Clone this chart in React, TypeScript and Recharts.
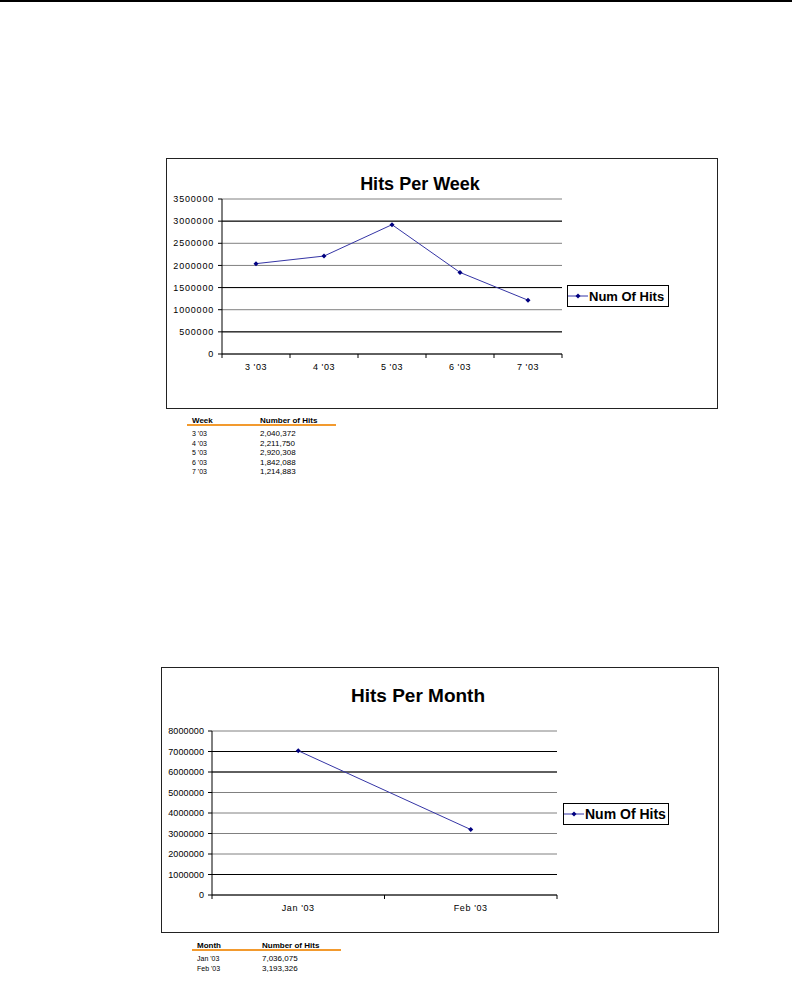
import React from "react";
import {
  CartesianGrid,
  Legend,
  Line,
  LineChart,
  ReferenceLine,
  XAxis,
  YAxis,
} from "recharts";

const weekLabels = ["3 '03", "4 '03", "5 '03", "6 '03", "7 '03"];
const weekHits = [2040372, 2211750, 2920308, 1842088, 1214883];
const weekTicks = [0, 500000, 1000000, 1500000, 2000000, 2500000, 3000000, 3500000];

const monthLabels = ["Jan '03", "Feb '03"];
const monthHits = [7036075, 3193326];
const monthTicks = [0, 1000000, 2000000, 3000000, 4000000, 5000000, 6000000, 7000000, 8000000];

const FONT = "Arial, 'Liberation Sans', sans-serif";
const LINE_COLOR = "#3535a5";
const DOT_COLOR = "#000080";

const weekData = weekLabels.map((label, i) => ({ label, hits: weekHits[i] }));
const monthData = monthLabels.map((label, i) => ({ label, hits: monthHits[i] }));

function Diamond(props: any) {
  const { cx, cy, index } = props;
  if (cx == null || cy == null) return <g key={index} />;
  return (
    <polygon
      key={index}
      points={`${cx},${cy - 2.5} ${cx + 2.5},${cy} ${cx},${cy + 2.5} ${cx - 2.5},${cy}`}
      fill={DOT_COLOR}
    />
  );
}

// category label plus Excel-style tick marks on the category boundaries
function CategoryTick(props: any) {
  const { x, y, payload, index, visibleTicksCount } = props;
  const half = payload.offset || 0;
  const axisY = y - 10;
  const last = index === visibleTicksCount - 1;
  return (
    <g>
      <line x1={x - half} y1={axisY} x2={x - half} y2={axisY + 4} stroke="#000" />
      {last && <line x1={x + half} y1={axisY} x2={x + half} y2={axisY + 4} stroke="#000" />}
      <text
        x={x}
        y={y}
        dy="0.71em"
        textAnchor="middle"
        fontSize={9}
        fontFamily={FONT}
        letterSpacing={0.6}
        fill="#000"
      >
        {payload.value}
      </text>
    </g>
  );
}

function LegendBox({ width, fontSize, gap }: { width: number; fontSize: number; gap: number }) {
  return (
    <div style={{ paddingLeft: gap }}>
      <div
        style={{
          width,
          height: 22,
          boxSizing: "border-box",
          border: "1px solid #000",
          display: "flex",
          alignItems: "center",
          fontFamily: FONT,
          fontWeight: "bold",
          fontSize,
          color: "#000",
          background: "#fff",
          whiteSpace: "nowrap",
        }}
      >
        <svg width={20} height={10} style={{ marginLeft: 0, marginRight: 1, flex: "none" }}>
          <line x1={0} y1={5} x2={20} y2={5} stroke={LINE_COLOR} strokeWidth={1} />
          <polygon points="10,2.5 12.5,5 10,7.5 7.5,5" fill={DOT_COLOR} />
        </svg>
        <span>Num Of Hits</span>
      </div>
    </div>
  );
}

type ChartProps = {
  data: { label: string; hits: number }[];
  ticks: number[];
  darkLines: number[];
  title: string;
  titleSize: number;
  titleCenter: number;
  titleTop: number;
  left: number;
  top: number;
  width: number;
  height: number;
  margin: { top: number; right: number; left: number; bottom: number };
  yWidth: number;
  ySpacing: number;
  xHeight: number;
  legendTop: number;
  legendWidth: number;
  legendGap: number;
  legendFont: number;
};

function HitsChart(p: ChartProps) {
  return (
    <div
      style={{
        position: "absolute",
        left: p.left,
        top: p.top,
        width: p.width,
        height: p.height,
        boxSizing: "border-box",
        border: "1px solid #222",
      }}
    >
      <div
        style={{
          position: "absolute",
          left: p.titleCenter - 150,
          top: p.titleTop,
          width: 300,
          textAlign: "center",
          fontFamily: FONT,
          fontWeight: "bold",
          fontSize: p.titleSize,
          lineHeight: `${p.titleSize}px`,
          color: "#000",
        }}
      >
        {p.title}
      </div>
      <div style={{ position: "absolute", left: -1, top: -1 }}>
        <LineChart width={p.width} height={p.height} data={p.data} margin={p.margin}>
          <CartesianGrid vertical={false} stroke="#808080" />
          {p.darkLines.map((v) => (
            <ReferenceLine key={v} y={v} stroke="#000" />
          ))}
          <XAxis
            dataKey="label"
            scale="band"
            height={p.xHeight}
            stroke="#000"
            tickLine={false}
            tickSize={4}
            tickMargin={6}
            interval={0}
            tick={<CategoryTick />}
          />
          <YAxis
            domain={[p.ticks[0], p.ticks[p.ticks.length - 1]]}
            ticks={p.ticks}
            width={p.yWidth}
            tickSize={4}
            tickMargin={4}
            stroke="#000"
            interval={0}
            tick={{ fontSize: 9, fill: "#000", fontFamily: FONT, letterSpacing: p.ySpacing }}
          />
          <Legend
            layout="vertical"
            align="right"
            verticalAlign="top"
            wrapperStyle={{ top: p.legendTop }}
            content={() => (
              <LegendBox width={p.legendWidth} fontSize={p.legendFont} gap={p.legendGap} />
            )}
          />
          <Line
            type="linear"
            dataKey="hits"
            stroke={LINE_COLOR}
            strokeWidth={1}
            dot={Diamond}
            activeDot={false}
            isAnimationActive={false}
          />
        </LineChart>
      </div>
    </div>
  );
}

function HitsTable({
  left,
  top,
  header,
  labels,
  values,
  valueLeft,
}: {
  left: number;
  top: number;
  header: string;
  labels: string[];
  values: number[];
  valueLeft: number;
}) {
  const cell: React.CSSProperties = {
    position: "absolute",
    fontFamily: FONT,
    fontSize: 8,
    lineHeight: "8px",
    color: "#000",
    whiteSpace: "nowrap",
  };
  return (
    <div style={{ position: "absolute", left, top, width: 150 }}>
      <div style={{ ...cell, left: 5, top: 0, fontWeight: "bold" }}>{header}</div>
      <div style={{ ...cell, left: valueLeft, top: 0, fontWeight: "bold" }}>Number of Hits</div>
      <div
        style={{ position: "absolute", left: 0, top: 7, width: 149, height: 2, background: "#f29a2e" }}
      />
      {labels.map((label, i) => (
        <React.Fragment key={label}>
          <div style={{ ...cell, left: 5, top: 13 + i * 9.6, fontSize: 7 }}>{label}</div>
          <div style={{ ...cell, left: valueLeft, top: 13 + i * 9.6 }}>
            {values[i].toLocaleString("en-US")}
          </div>
        </React.Fragment>
      ))}
    </div>
  );
}

export default function App() {
  return (
    <div
      style={{
        position: "absolute",
        left: 0,
        top: 0,
        width: 792,
        height: 991,
        background: "#fff",
        overflow: "hidden",
      }}
    >
      <div style={{ position: "absolute", left: 0, top: 0, width: 792, height: 2, background: "#000" }} />
      <HitsChart
        data={weekData}
        ticks={weekTicks}
        darkLines={[3000000, 1500000, 500000]}
        title="Hits Per Week"
        titleSize={18}
        titleCenter={253}
        titleTop={16}
        left={166}
        top={158}
        width={552}
        height={251}
        margin={{ top: 41, right: 49, left: 0, bottom: 0 }}
        yWidth={56}
        ySpacing={0.8}
        xHeight={55}
        legendTop={127}
        legendWidth={102}
        legendGap={5}
        legendFont={13}
      />
      <HitsTable
        left={187}
        top={417}
        header="Week"
        labels={weekLabels}
        values={weekHits}
        valueLeft={73}
      />
      <HitsChart
        data={monthData}
        ticks={monthTicks}
        darkLines={[7000000, 6000000, 1000000]}
        title="Hits Per Month"
        titleSize={19}
        titleCenter={256}
        titleTop={18}
        left={161}
        top={667}
        width={558}
        height={266}
        margin={{ top: 64, right: 50, left: 0, bottom: 0 }}
        yWidth={51}
        ySpacing={0.1}
        xHeight={38}
        legendTop={136}
        legendWidth={106}
        legendGap={6}
        legendFont={14}
      />
      <HitsTable
        left={192}
        top={942}
        header="Month"
        labels={monthLabels}
        values={monthHits}
        valueLeft={70}
      />
    </div>
  );
}
